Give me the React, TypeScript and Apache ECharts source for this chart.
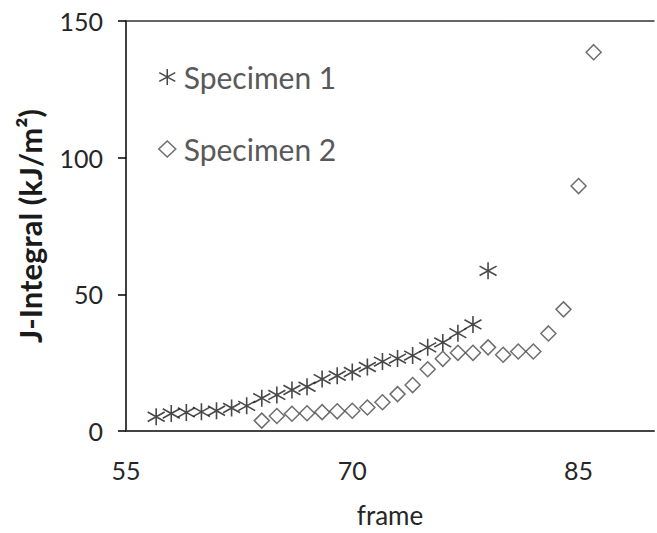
import React, { useEffect, useRef } from 'react';
import * as echarts from 'echarts';

// Specimen 1 (asterisks)
const frames1 = [57, 58, 59, 60, 61, 62, 63, 64, 65, 66, 67, 68, 69, 70, 71, 72, 73, 74, 75, 76, 77, 78, 79];
const specimen1 = [5.2, 6.4, 6.8, 7.0, 7.4, 8.4, 9.2, 12.0, 13.2, 15.0, 16.2, 19.0, 20.2, 21.6, 23.4, 25.4, 26.5, 27.6, 30.6, 32.4, 35.8, 39.0, 58.6];

// Specimen 2 (diamonds)
const frames2 = [64, 65, 66, 67, 68, 69, 70, 71, 72, 73, 74, 75, 76, 77, 78, 79, 80, 81, 82, 83, 84, 85, 86];
const specimen2 = [3.8, 5.5, 6.3, 6.5, 6.9, 7.2, 7.4, 8.6, 10.5, 13.5, 16.8, 22.6, 26.4, 28.6, 28.6, 30.6, 27.9, 29.1, 29.1, 35.7, 44.5, 89.6, 138.6];

const xTickLabels = [55, 70, 85];
const yTickLabels = [0, 50, 100, 150];

const seriesNames = ['Specimen 1', 'Specimen 2'];

const FONT = 'Lato, "Open Sans", sans-serif';
const ASTERISK = 'path://M9,0 L9,18 M0,4 L18,14 M0,14 L18,4';

export default function App() {
  const ref = useRef<HTMLDivElement>(null);

  useEffect(() => {
    document.body.style.margin = '0';
    if (!ref.current) return;
    const chart = echarts.init(ref.current, null, { renderer: 'svg' });
    const option = {
      animation: false,
      backgroundColor: '#ffffff',
      grid: {
        left: 126,
        top: 21,
        width: 536.6,
        height: 415.5,
        show: false,
      },
      legend: {
        orient: 'vertical',
        left: 158,
        top: 62,
        padding: 0,
        itemGap: 42,
        itemWidth: 17,
        itemHeight: 16,
        data: seriesNames,
        itemStyle: { borderWidth: 1.5 },
        textStyle: {
          fontFamily: FONT,
          fontSize: 30,
          color: '#595959',
          lineHeight: 30,
          padding: [0, 0, 0, 3],
        },
      },
      xAxis: [
        {
          type: 'value',
          min: 55,
          max: 90,
          interval: 15,
          name: 'frame',
          nameLocation: 'middle',
          nameGap: 71,
          nameTextStyle: { fontFamily: FONT, fontSize: 26, color: '#262626' },
          axisLine: { show: true, onZero: false, lineStyle: { color: '#444444', width: 2 } },
          axisTick: { show: false },
          splitLine: { show: false },
          axisLabel: {
            margin: 26,
            fontFamily: FONT,
            fontSize: 25,
            color: '#262626',
            formatter: (v: number) => (xTickLabels.includes(v) ? String(v) : ''),
          },
        },
        {
          type: 'value',
          position: 'top',
          min: 55,
          max: 90,
          interval: 15,
          axisLine: { show: true, onZero: false, lineStyle: { color: '#333333', width: 1.5 } },
          axisTick: { show: false },
          axisLabel: { show: false },
          splitLine: { show: false },
        },
      ],
      yAxis: {
        type: 'value',
        min: 0,
        max: 150,
        interval: 50,
        name: 'J-Integral (kJ/m²)',
        nameLocation: 'middle',
        nameGap: 81,
        nameTextStyle: { fontFamily: FONT, fontSize: 31, color: '#1a1a1a', fontWeight: 'bold' },
        axisLine: { show: true, lineStyle: { color: '#000000', width: 1.5 } },
        axisTick: { show: true, inside: false, length: 8, lineStyle: { color: '#000000', width: 1.5 } },
        splitLine: { show: false },
        axisLabel: {
          margin: 23,
          fontFamily: FONT,
          fontSize: 25,
          color: '#262626',
          formatter: (v: number) => (yTickLabels.includes(v) ? String(v) : ''),
        },
      },
      series: [
        {
          name: seriesNames[0],
          type: 'scatter',
          symbol: ASTERISK,
          symbolSize: [17, 17],
          itemStyle: { color: 'rgba(0,0,0,0)', borderColor: '#1a1a1a', borderWidth: 1.6 },
          data: frames1.map((f, i) => [f, specimen1[i]]),
        },
        {
          name: seriesNames[1],
          type: 'scatter',
          symbol: 'diamond',
          symbolSize: [15, 15],
          itemStyle: { color: 'rgba(0,0,0,0)', borderColor: '#4a4a4a', borderWidth: 1.5 },
          data: frames2.map((f, i) => [f, specimen2[i]]),
        },
      ],
    };
    chart.setOption(option as any);
    return () => chart.dispose();
  }, []);

  return <div ref={ref} style={{ width: 657, height: 533 }} />;
}
